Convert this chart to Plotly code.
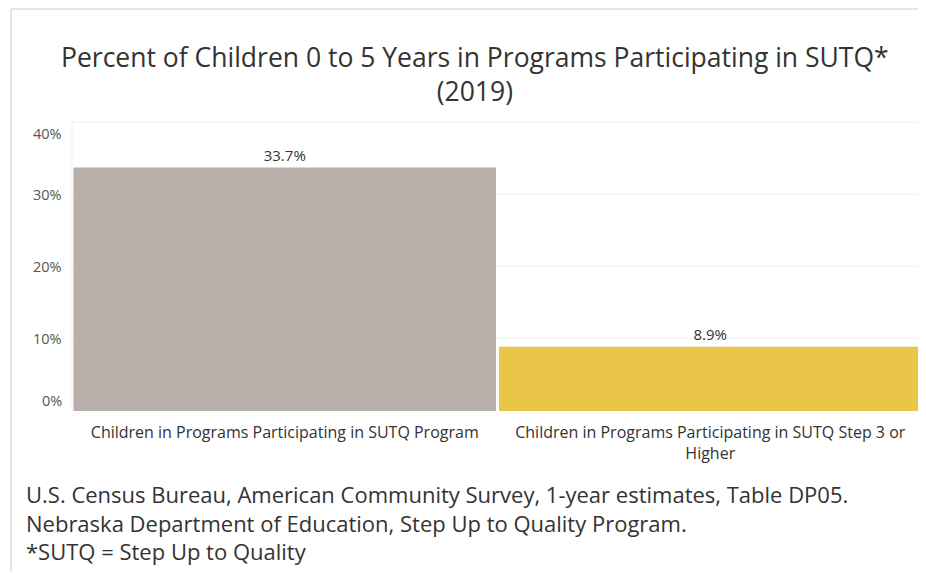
import plotly.graph_objects as go

categories = ["Children in Programs Participating in SUTQ Program",
              "Children in Programs Participating in SUTQ Step 3 or<br>Higher"]
values = [33.7, 8.9]
value_labels = ["33.7%", "8.9%"]
bar_colors = ["#b8afab", "#e9c647"]
tick_vals = [0, 10, 20, 30, 40]
tick_text = ["0%", "10%", "20%", "30%", "40%"]
title_text = "Percent of Children 0 to 5 Years in Programs Participating in SUTQ*<br>(2019)"
footer_lines = ["U.S. Census Bureau, American Community Survey, 1-year estimates, Table DP05.",
                "Nebraska Department of Education, Step Up to Quality Program.",
                "*SUTQ = Step Up to Quality"]

# page body has an 8px margin; work in screen pixels and convert
OFF = 8
W, H = 926 - OFF, 580 - 2 * OFF
PLOT_L, PLOT_R, PLOT_T, PLOT_B = 72, 923, 122, 411  # screen pixels
L = PLOT_L - OFF
T = PLOT_T - OFF
R = W - (PLOT_R - OFF)
B = H - (PLOT_B - OFF)
PW, PH = W - L - R, H - T - B

def px_x(x):
    return (x - OFF - L) / PW

def px_y(y):
    return (H - B - (y - OFF)) / PH

FONT = "'Open Sans', sans-serif"

fig = go.Figure()
fig.add_trace(go.Bar(
    x=categories, y=values, marker_color=bar_colors, marker_line_width=0,
    text=value_labels, textposition="outside", cliponaxis=False,
    textfont=dict(size=15, color="#333333", family=FONT),
    hoverinfo="skip",
))

annotations = []
for v, t in zip(tick_vals, tick_text):
    if v == max(tick_vals):
        ya, ys = "top", 0
    elif v == min(tick_vals):
        ya, ys = "bottom", -1
    else:
        ya, ys = "middle", 0
    annotations.append(dict(x=px_x(64), xref="paper", y=v, yref="y", text=t,
                            showarrow=False, xanchor="right", yanchor=ya, yshift=ys,
                            font=dict(size=14.5, color="#555555", family=FONT)))

annotations.append(dict(x=px_x(475), xref="paper", y=px_y(74), yref="paper",
                        text=title_text, showarrow=False, xanchor="center", yanchor="middle",
                        font=dict(size=26.5, color="#333333", family=FONT)))

annotations.append(dict(x=px_x(24), xref="paper", y=px_y(522), yref="paper",
                        text="<br>".join(footer_lines), showarrow=False,
                        xanchor="left", yanchor="middle", align="left",
                        font=dict(size=22, color="#333333", family=FONT)))

shapes = [
    dict(type="line", xref="paper", yref="paper", x0=px_x(11), x1=px_x(11),
         y0=px_y(9), y1=px_y(590), line=dict(color="#dcdcdc", width=1.5)),
    dict(type="line", xref="paper", yref="paper", x0=px_x(11), x1=px_x(940),
         y0=px_y(9), y1=px_y(9), line=dict(color="#dcdcdc", width=1.5)),
    dict(type="line", xref="paper", yref="paper", x0=0, x1=0, y0=0, y1=1,
         line=dict(color="#f0f0f0", width=1), layer="below"),
    dict(type="line", xref="paper", yref="paper", x0=0, x1=1, y0=1, y1=1,
         line=dict(color="#f0f0f0", width=1), layer="below"),
]

fig.update_layout(
    width=W, height=H,
    margin=dict(l=L, r=R, t=T, b=B),
    paper_bgcolor="white", plot_bgcolor="white",
    bargap=0.007,
    showlegend=False,
    font=dict(family=FONT, color="#333333"),
    xaxis=dict(showgrid=False, showline=False, zeroline=False, ticks="",
               tickfont=dict(size=16, color="#333333", family=FONT), ticklabelstandoff=10),
    yaxis=dict(range=[0, 40], tickvals=tick_vals, showticklabels=False,
               showgrid=True, gridcolor="#f0f0f0", gridwidth=1,
               zeroline=False, showline=False, ticks=""),
    annotations=annotations,
    shapes=shapes,
)

fig.write_html("out.html")
